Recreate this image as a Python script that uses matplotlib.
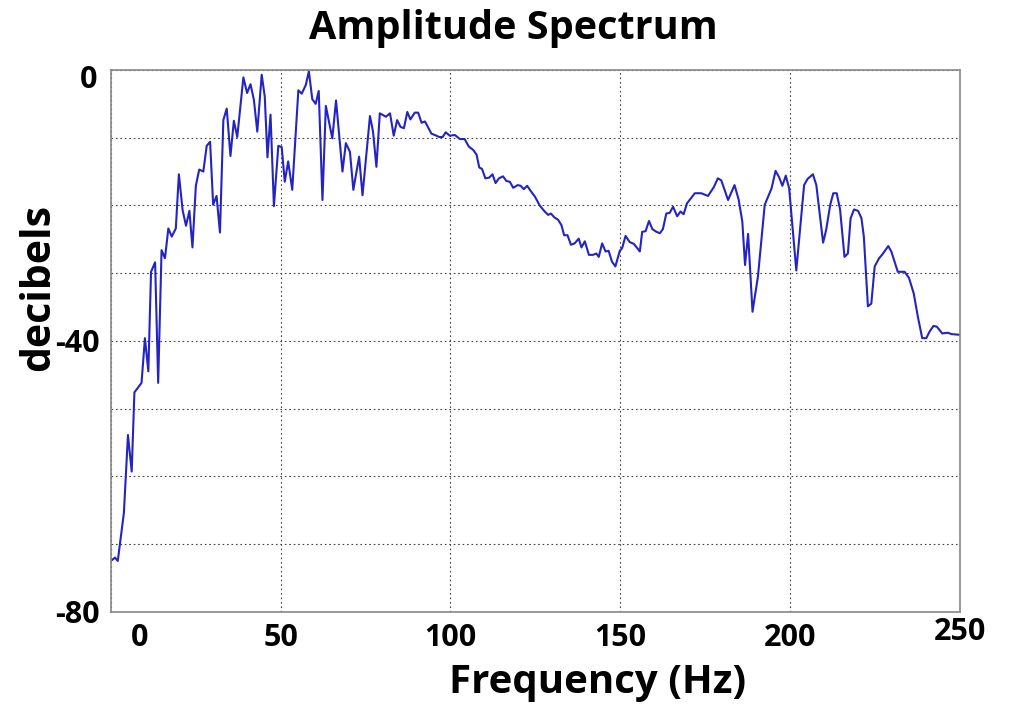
import matplotlib
matplotlib.use('Agg')
import matplotlib.pyplot as plt
import matplotlib.transforms as mtransforms

plt.rcParams['font.family'] = ['Open Sans', 'DejaVu Sans']
plt.rcParams['font.weight'] = 'bold'

# spectrum (Hz, dB)
freq = [0.2, 1.2, 2.0, 2.6, 3.8, 5.0, 6.1, 6.9, 9.0, 10.0, 11.0, 11.8, 13.0, 13.9,
        14.9, 15.9, 16.9, 17.9, 19.1, 20.0, 21.1, 22.1, 23.1, 24.0, 25.0, 26.0,
        27.2, 28.2, 29.2, 30.1, 31.1, 32.1, 33.1, 34.1, 35.2, 36.2, 37.2, 39.0,
        40.1, 41.1, 42.1, 43.1, 44.4, 45.3, 46.1, 47.0, 48.0, 49.3, 50.3, 51.2,
        52.2, 53.4, 55.2, 56.2, 57.4, 58.3, 59.3, 60.3, 61.2, 62.3, 63.3, 65.2,
        66.3, 68.2, 69.2, 70.4, 71.4, 73.1, 74.1, 76.3, 77.2, 78.2, 79.2, 81.0,
        82.2, 83.3, 84.3, 85.3, 86.3, 87.3, 88.2, 89.5, 90.5, 91.5, 92.5, 94.4,
        95.4, 96.7, 97.7, 98.6, 99.8, 101.3, 102.8, 104.2, 105.4, 106.7, 107.7,
        108.5, 109.3, 110.3, 111.4, 112.4, 113.3, 114.3, 115.5, 116.5, 117.5,
        118.5, 119.8, 120.7, 121.6, 122.6, 123.7, 124.9, 126.3, 127.6, 128.8,
        129.6, 130.7, 131.7, 132.7, 133.5, 134.5, 135.5, 136.6, 137.8, 138.6,
        139.6, 140.8, 142.0, 143.0, 143.7, 144.7, 145.7, 146.6, 147.6, 148.6,
        149.9, 150.6, 151.6, 152.8, 154.1, 155.8, 156.5, 157.5, 158.5, 159.5,
        160.7, 161.7, 162.6, 163.6, 164.6, 165.6, 166.8, 167.8, 168.7, 169.7,
        172.0, 173.9, 175.9, 177.6, 178.8, 179.8, 181.8, 183.7, 184.9, 186.0,
        186.8, 187.7, 189.0, 190.6, 192.6, 194.6, 195.8, 196.8, 197.8, 198.8,
        199.8, 201.9, 204.2, 205.2, 206.8, 207.8, 209.8, 210.7, 211.9, 212.8,
        213.8, 214.8, 216.1, 217.1, 217.9, 218.9, 220.1, 221.1, 221.8, 223.0,
        224.0, 225.0, 226.3, 227.3, 229.0, 229.9, 231.8, 233.8, 235.1, 236.5,
        237.7, 239.0, 240.2, 241.2, 242.3, 243.3, 244.9, 246.6, 247.6, 250.0]
db = [-72.4, -72.0, -72.5, -70.1, -65.4, -53.9, -59.3, -47.6, -46.2, -39.6, -44.5,
      -29.8, -28.4, -46.2, -26.6, -27.8, -23.4, -24.6, -23.4, -15.4, -20.7, -23.0,
      -20.8, -26.2, -17.1, -14.7, -15.0, -11.2, -10.6, -19.9, -18.6, -24.0, -7.4,
      -5.7, -12.7, -7.5, -9.9, -1.1, -3.4, -2.1, -4.4, -9.1, -0.7, -3.9, -12.9,
      -6.6, -20.1, -11.2, -11.4, -16.5, -13.5, -17.7, -3.0, -3.5, -2.2, -0.2,
      -4.3, -5.0, -3.1, -19.2, -5.3, -10.1, -4.5, -15.0, -10.8, -12.1, -17.7,
      -12.8, -18.5, -6.8, -9.1, -14.3, -6.4, -6.9, -6.4, -9.7, -7.4, -8.4, -8.6,
      -6.2, -7.3, -6.3, -6.3, -7.8, -7.6, -9.4, -9.6, -9.9, -9.9, -9.2, -9.7,
      -9.6, -10.2, -10.2, -11.3, -11.8, -12.5, -14.4, -14.6, -16.0, -15.9, -15.4,
      -16.7, -16.0, -15.7, -16.4, -16.5, -17.4, -17.0, -17.1, -17.6, -17.1, -17.9,
      -18.7, -20.0, -20.8, -21.4, -21.2, -21.8, -22.1, -22.9, -24.4, -24.4, -25.8,
      -25.6, -24.9, -26.2, -25.3, -27.3, -27.3, -27.1, -27.6, -25.6, -26.8, -26.7,
      -28.3, -29.0, -26.7, -26.3, -24.5, -25.4, -25.7, -26.8, -23.9, -23.8, -22.3,
      -23.5, -23.9, -24.1, -23.5, -21.2, -21.1, -20.2, -21.6, -20.9, -21.3, -19.7,
      -18.2, -18.2, -18.6, -17.3, -16.0, -16.3, -19.2, -17.0, -19.1, -22.4, -28.8,
      -24.2, -35.7, -30.5, -19.9, -17.5, -14.9, -15.8, -17.1, -15.6, -17.5, -29.6,
      -17.0, -16.1, -15.4, -17.0, -25.5, -23.6, -19.9, -18.2, -18.2, -20.6, -27.6,
      -27.1, -21.9, -20.6, -20.8, -21.9, -24.6, -34.9, -34.5, -29.0, -27.8, -27.2,
      -26.0, -26.8, -29.8, -29.8, -30.7, -33.0, -36.4, -39.6, -39.6, -38.6, -37.8,
      -37.9, -38.9, -38.8, -39.0, -39.1]

xtick_vals = [0, 50, 100, 150, 200, 250]
xtick_labels = ['0', '50', '100', '150', '200', '250']
ytick_vals = [0, -40, -80]
ytick_labels = ['0', '-40', '-80']

fig = plt.figure(figsize=(10.09, 7.04), dpi=100)
ax = fig.add_axes([0.110, 0.131, 0.841, 0.7696])

ax.plot(freq, db, color='#2424c0', linewidth=1.5)

ax.set_xlim(0, 250)
ax.set_ylim(-80, 0)
ax.set_xticks(xtick_vals)
ax.set_xticklabels(xtick_labels)
# grid every 10 dB, labels only on a few of them
grid_vals = list(range(-80, 1, 10))
ax.set_yticks(grid_vals)
ax.set_yticklabels([ytick_labels[ytick_vals.index(v)] if v in ytick_vals else ''
                    for v in grid_vals])
ax.grid(True, color='#444444', linestyle=(0, (1.5, 2.5)), linewidth=0.8)
ax.tick_params(length=0, labelsize=22, pad=8)
for s in ax.spines.values():
    s.set_color('#888888')
    s.set_linewidth(1.2)

# nudge individual tick labels like in the original
labels = ax.get_xticklabels()
labels[0].set_transform(labels[0].get_transform() +
                        mtransforms.ScaledTranslation(0.29, 0, fig.dpi_scale_trans))
labels[-1].set_transform(labels[-1].get_transform() +
                         mtransforms.ScaledTranslation(0.0, 0.06, fig.dpi_scale_trans))
ylabs = ax.get_yticklabels()
ylabs[-1].set_transform(ylabs[-1].get_transform() +
                        mtransforms.ScaledTranslation(-0.03, -0.07, fig.dpi_scale_trans))

fig.text(0.509, 0.960, 'Amplitude Spectrum', ha='center', va='center',
         fontsize=28.5, fontweight='bold')
fig.text(0.592, 0.030, 'Frequency (Hz)', ha='center', va='center',
         fontsize=29, fontweight='bold')
fig.text(0.038, 0.592, 'decibels', ha='center', va='center', rotation=90,
         fontsize=29.5, fontweight='bold')

fig.savefig('out.png', dpi=100)
